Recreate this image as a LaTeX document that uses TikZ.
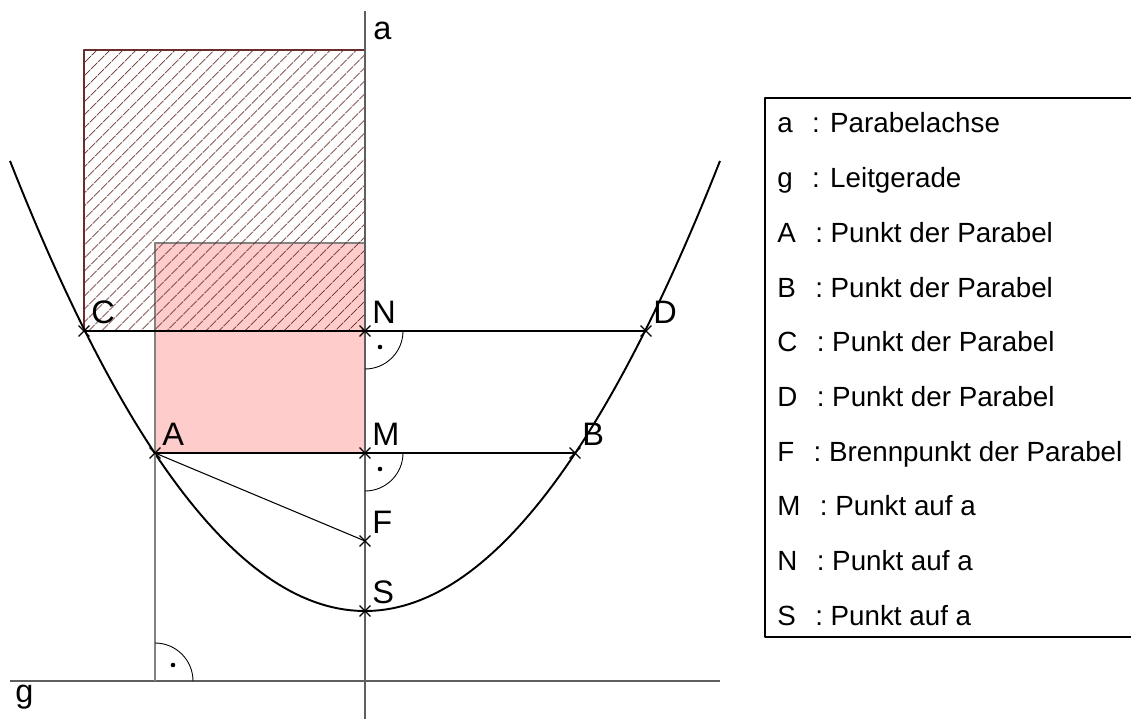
\documentclass[tikz,border=0pt]{standalone}
\usepackage{fontspec}
\setmainfont{Liberation Sans}
\usetikzlibrary{patterns.meta, shapes.misc}
\definecolor{achsgrau}{RGB}{95,95,95}
\definecolor{rosa}{RGB}{255,204,204}
\definecolor{randgrau}{RGB}{130,130,130}
\definecolor{schraffur}{RGB}{105,45,45}
\begin{document}
\begin{tikzpicture}[x=0.02cm, y=-0.02cm, line join=round,
    every node/.style={font=\fontsize{18.5}{21}\selectfont},
    kreuz/.style={draw, cross out, minimum size=5.5pt, inner sep=0pt, line width=0.75pt},
    lbl/.style={anchor=south west, inner sep=0pt, xshift=4pt, yshift=4pt},
    leg/.style={anchor=base west, inner sep=0pt, font=\fontsize{15.8}{18}\selectfont}]

    \useasboundingbox (0,0) rectangle (1131,719);

    % --- 1. 基準値の定義 ---
    % xAxis: 放物線の軸 a, yS..yN: 軸上の点, yG: 準線 g
    \def\xAxis{365}
    \def\yS{611}
    \def\yF{541}
    \def\yM{453}
    \def\yN{331}
    \def\yG{681}

    % --- 2. 座標の定義 ---
    \coordinate (S) at (\xAxis, \yS);
    \coordinate (F) at (\xAxis, \yF);
    \coordinate (M) at (\xAxis, \yM);
    \coordinate (N) at (\xAxis, \yN);
    \coordinate (A) at (155, \yM);
    \coordinate (B) at (575, \yM);
    \coordinate (C) at (84,  \yN);
    \coordinate (D) at (646, \yN);
    \coordinate (L) at (155, \yG);
    \coordinate (aTop) at (\xAxis, 11);
    \coordinate (aBot) at (\xAxis, 719);
    \coordinate (gL) at (10,  \yG);
    \coordinate (gR) at (720, \yG);

    % --- 3. 正方形（塗り・斜線） ---
    \filldraw[fill=rosa, draw=randgrau, line width=0.6pt] (A) rectangle (\xAxis, 243);
    \draw[schraffur, line width=0.6pt,
          pattern={Lines[angle=45, distance=5.4pt, line width=0.5pt]}, pattern color=schraffur]
        (C) rectangle (\xAxis, 50);

    % --- 4. 軸 a と準線 g ---
    \draw[achsgrau, line width=0.9pt] (aTop) -- (aBot);
    \draw[achsgrau, line width=0.9pt] (gL) -- (gR);

    % --- 5. 放物線 ---
    \draw[line width=1.1pt] plot[domain=-355:355, samples=120]
        ({\xAxis+\x}, {\yS-(\x/10)*(\x/10)/2.8});

    % --- 6. 線分 ---
    \draw[line width=0.6pt] (C) -- (D);
    \draw[line width=0.6pt] (A) -- (B);
    \draw[line width=0.6pt] (A) -- (F);
    \draw[randgrau, line width=0.6pt] (A) -- (L);

    % --- 7. 直角の記号 ---
    \foreach \p in {N, M} {
        \draw[line width=0.5pt] (\p) ++(38,0) arc[start angle=0, end angle=90, radius=38];
        \fill (\p) ++(15,16) circle (1.3pt);
    }
    \draw[line width=0.5pt] (L) ++(38,0) arc[start angle=0, end angle=-90, radius=38];
    \fill (L) ++(18,-16) circle (1.3pt);

    % --- 8. 点（×印）とラベル ---
    \foreach \p in {A, B, C, D, F, M, N, S} {
        \node[kreuz] at (\p) {};
        \node[lbl] at (\p) {\p};
    }
    \node[anchor=base west, inner sep=0pt] (aLabel) at (373, 40) {a};
    \node[anchor=north west, inner sep=0pt] (gLabel) at (15, 685) {g};

    % --- 9. 凡例 ---
    \draw[line width=1pt] (1131,98) -- (765,98) -- (765,637) -- (1131,637);
    \foreach \sym/\txt [count=\i] in {a/Parabelachse, g/Leitgerade,
        A/Punkt der Parabel, B/Punkt der Parabel, C/Punkt der Parabel,
        D/Punkt der Parabel, F/Brennpunkt der Parabel,
        M/Punkt auf a, N/Punkt auf a, S/Punkt auf a}
        \node[leg] (leg\i) at (777, {133+54.7*(\i-1)}) {\sym\hspace{0.7em}: \txt};

  \end{tikzpicture}
\end{document}
